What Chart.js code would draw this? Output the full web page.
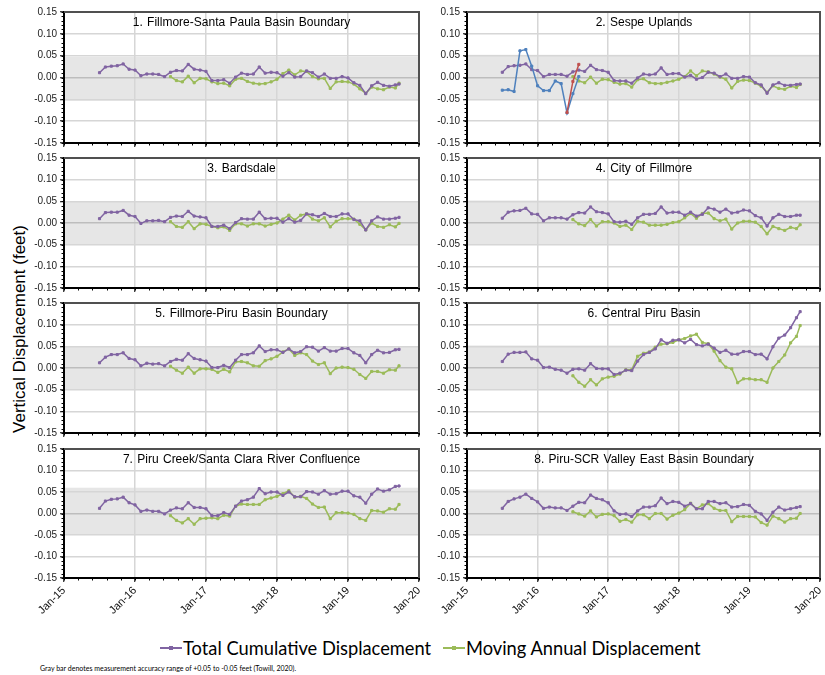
<!DOCTYPE html>
<html><head><meta charset="utf-8">
<script src="https://cdn.jsdelivr.net/npm/chart.js@4.4.1/dist/chart.umd.min.js"></script>
<style>
html,body{margin:0;padding:0;background:#fff}
body{width:825px;height:675px;overflow:hidden;position:relative;font-family:"Liberation Sans",Arial,sans-serif}
canvas{position:absolute}
.ptitle{position:absolute;font-size:12px;line-height:14px;color:#000;white-space:nowrap;transform:translateX(-50%);word-spacing:1px}
#ytitle{position:absolute;left:20px;top:329px;font-size:17px;color:#000;white-space:nowrap;transform:translate(-50%,-50%) rotate(-90deg)}
.leg{position:absolute;top:636px;height:24px;display:flex;align-items:center;font-family:Lato,"Open Sans",sans-serif;font-size:18.3px;color:#000;white-space:nowrap}
.legm{position:relative;width:22px;height:2px;margin-right:1px}
.legm span{position:absolute;left:9px;top:-1px;width:4px;height:4px}
#foot{position:absolute;left:40px;top:664px;font-family:Lato,"Open Sans",sans-serif;font-size:7px;color:#000;white-space:nowrap}
</style></head>
<body>
<div id="ytitle">Vertical Displacement (feet)</div>
<div class="leg" style="left:160px"><div class="legm" style="background:#8064A2"><span style="background:#8064A2"></span></div>Total Cumulative Displacement</div>
<div class="leg" style="left:443px"><div class="legm" style="background:#9BBB59"><span style="background:#9BBB59"></span></div>Moving Annual Displacement</div>
<div id="foot">Gray bar denotes measurement accuracy range of +0.05 to -0.05 feet (Towill, 2020).</div>
<script>
// ---------- DATA ----------
const dates = [
 '2015-07','2015-08','2015-09','2015-10','2015-11','2015-12',
 '2016-01','2016-02','2016-03','2016-04','2016-05','2016-06','2016-07','2016-08','2016-09','2016-10','2016-11','2016-12',
 '2017-01','2017-02','2017-03','2017-04','2017-05','2017-06','2017-07','2017-08','2017-09','2017-10','2017-11','2017-12',
 '2018-01','2018-02','2018-03','2018-04','2018-05','2018-06','2018-07','2018-08','2018-09','2018-10','2018-11','2018-12',
 '2019-01','2019-02','2019-03','2019-04','2019-05','2019-06','2019-07','2019-08','2019-09','2019-09-20'
];
// moving annual series start one year after the first date (index 12 = 2016-07)
const annualStartIndex = 12;

const titles = [
 '1. Fillmore-Santa Paula Basin Boundary','2. Sespe Uplands','3. Bardsdale','4. City of Fillmore',
 '5. Fillmore-Piru Basin Boundary','6. Central Piru Basin','7. Piru Creek/Santa Clara River Confluence','8. Piru-SCR Valley East Basin Boundary'
];

const total1 = [0.011,0.024,0.026,0.027,0.031,0.019,
 0.017,0.004,0.008,0.008,0.007,0.002,0.012,0.016,0.015,0.030,0.019,0.017,
 0.014,-0.007,-0.007,-0.005,-0.013,0.001,0.010,0.007,0.008,0.024,0.010,0.012,
 0.011,0.003,0.011,0.001,0.002,0.015,0.011,0.001,0.008,-0.002,-0.002,0.002,
 -0.001,-0.012,-0.018,-0.037,-0.019,-0.011,-0.018,-0.020,-0.017,-0.015];
const annual1 = [0.002,-0.007,-0.010,0.003,-0.012,-0.002,
 -0.003,-0.010,-0.014,-0.013,-0.019,-0.004,-0.002,-0.009,-0.013,-0.015,-0.014,-0.010,
 -0.004,0.009,0.017,0.006,0.015,0.014,0.002,-0.003,-0.002,-0.025,-0.010,-0.009,
 -0.010,-0.015,-0.026,-0.036,-0.022,-0.026,-0.028,-0.022,-0.024,-0.013];

const total2 = [0.012,0.025,0.027,0.028,0.031,0.018,
 0.016,0.002,0.007,0.007,0.007,0.003,0.013,0.017,0.014,0.028,0.018,0.016,
 0.012,-0.007,-0.008,-0.008,-0.013,-0.001,0.008,0.006,0.008,0.022,0.007,0.009,
 0.009,0.001,0.005,-0.004,0.000,0.012,0.010,0.002,0.008,-0.002,-0.002,0.002,
 0.001,-0.012,-0.017,-0.036,-0.017,-0.012,-0.018,-0.018,-0.016,-0.015];
const annual2 = [0.002,-0.008,-0.012,0.001,-0.013,-0.004,
 -0.005,-0.011,-0.015,-0.014,-0.022,-0.005,-0.003,-0.012,-0.014,-0.014,-0.011,-0.008,
 -0.004,0.002,0.015,0.004,0.015,0.013,0.008,0.001,-0.004,-0.024,-0.009,-0.006,
 -0.007,-0.013,-0.020,-0.034,-0.019,-0.025,-0.027,-0.020,-0.023,-0.016];
// extra Sespe Uplands series (blue: first 14 dates; red: three dates)
const sespeBlue = [-0.029,-0.028,-0.032,0.061,0.064,0.026,-0.019,-0.030,-0.030,-0.008,-0.014,-0.081,-0.037,0.002];
const sespeRedDates = ['2016-06','2016-07','2016-08'];
const sespeRed = [-0.080,-0.009,0.030];

const total3 = [0.010,0.024,0.025,0.025,0.029,0.018,
 0.015,-0.001,0.005,0.005,0.006,0.003,0.013,0.016,0.015,0.027,0.016,0.014,
 0.012,-0.008,-0.008,-0.005,-0.013,0.001,0.010,0.009,0.009,0.025,0.010,0.011,
 0.011,0.002,0.010,0.002,0.006,0.021,0.019,0.015,0.022,0.015,0.015,0.021,
 0.021,0.008,0.005,-0.016,0.005,0.014,0.009,0.009,0.011,0.013];
const annual3 = [0.003,-0.008,-0.010,0.003,-0.013,-0.002,
 -0.003,-0.008,-0.011,-0.009,-0.017,-0.002,-0.002,-0.007,-0.002,-0.002,-0.007,-0.003,
 0.000,0.009,0.018,0.007,0.018,0.021,0.009,0.005,0.012,-0.009,0.004,0.010,
 0.010,0.009,-0.003,-0.016,0.000,-0.008,-0.010,-0.004,-0.009,-0.001];

const total4 = [0.011,0.025,0.028,0.029,0.034,0.021,
 0.020,0.005,0.012,0.012,0.012,0.009,0.019,0.024,0.023,0.037,0.026,0.024,
 0.021,0.003,0.002,0.004,-0.003,0.012,0.020,0.020,0.022,0.037,0.023,0.025,
 0.025,0.018,0.025,0.016,0.020,0.035,0.032,0.025,0.032,0.023,0.025,0.030,
 0.028,0.017,0.012,-0.007,0.012,0.020,0.015,0.015,0.018,0.018];
const annual4 = [0.008,-0.002,-0.006,0.008,-0.007,0.003,
 0.003,0.000,-0.008,-0.005,-0.015,0.004,0.002,-0.005,-0.005,-0.005,-0.003,0.001,
 0.003,0.012,0.022,0.011,0.022,0.023,0.010,0.005,0.009,-0.014,0.000,0.004,
 0.004,0.002,-0.008,-0.025,-0.008,-0.013,-0.017,-0.010,-0.013,-0.004];

const total5 = [0.012,0.025,0.031,0.031,0.035,0.022,
 0.019,0.005,0.011,0.009,0.010,0.005,0.015,0.020,0.018,0.033,0.022,0.019,
 0.016,0.001,0.001,0.006,0.001,0.018,0.031,0.031,0.035,0.051,0.038,0.042,
 0.042,0.036,0.044,0.035,0.038,0.049,0.048,0.039,0.047,0.039,0.039,0.045,
 0.045,0.035,0.029,0.012,0.031,0.041,0.035,0.036,0.042,0.043];
const annual5 = [0.004,-0.005,-0.012,0.002,-0.012,-0.002,
 -0.002,-0.003,-0.010,-0.003,-0.009,0.014,0.015,0.012,0.005,0.004,0.017,0.021,
 0.027,0.037,0.044,0.029,0.035,0.031,0.016,0.008,0.012,-0.013,0.000,0.002,
 0.001,-0.003,-0.015,-0.024,-0.008,-0.008,-0.012,-0.004,-0.005,0.005];

const total6 = [0.015,0.032,0.036,0.036,0.037,0.021,
 0.018,0.001,0.002,-0.003,-0.005,-0.012,-0.003,-0.002,-0.005,0.010,-0.001,-0.002,
 -0.002,-0.015,-0.012,-0.005,-0.006,0.016,0.031,0.036,0.044,0.065,0.057,0.064,
 0.065,0.058,0.066,0.054,0.051,0.055,0.046,0.036,0.041,0.032,0.032,0.038,
 0.038,0.031,0.032,0.021,0.049,0.069,0.076,0.093,0.116,0.130];
const annual6 = [-0.018,-0.033,-0.042,-0.027,-0.039,-0.025,
 -0.021,-0.019,-0.014,-0.004,-0.004,0.027,0.034,0.037,0.048,0.055,0.056,0.059,
 0.065,0.068,0.074,0.078,0.059,0.056,0.039,0.017,0.002,-0.002,-0.034,-0.025,
 -0.025,-0.027,-0.027,-0.033,0.000,0.015,0.030,0.058,0.073,0.098];

const total7 = [0.012,0.029,0.033,0.034,0.038,0.025,
 0.020,0.005,0.008,0.005,0.005,-0.001,0.008,0.013,0.011,0.025,0.014,0.014,
 0.011,-0.005,-0.005,0.002,-0.002,0.017,0.029,0.032,0.038,0.058,0.046,0.050,
 0.050,0.042,0.050,0.039,0.039,0.051,0.050,0.045,0.053,0.045,0.046,0.052,
 0.052,0.041,0.038,0.024,0.045,0.057,0.052,0.055,0.063,0.064];
const annual7 = [-0.005,-0.016,-0.022,-0.012,-0.025,-0.012,
 -0.011,-0.010,-0.012,-0.004,-0.006,0.017,0.022,0.021,0.021,0.021,0.032,0.036,
 0.040,0.046,0.053,0.038,0.040,0.035,0.022,0.014,0.015,-0.012,0.002,0.002,
 0.001,-0.002,-0.012,-0.016,0.007,0.006,0.003,0.011,0.010,0.021];

const total8 = [0.012,0.028,0.034,0.038,0.045,0.035,
 0.027,0.012,0.015,0.013,0.013,0.007,0.017,0.026,0.025,0.043,0.035,0.032,
 0.025,0.006,-0.002,-0.001,-0.007,0.006,0.015,0.015,0.018,0.036,0.023,0.028,
 0.026,0.017,0.023,0.011,0.011,0.028,0.028,0.023,0.025,0.015,0.016,0.021,
 0.019,0.005,-0.001,-0.016,0.003,0.015,0.008,0.011,0.014,0.016];
const annual8 = [0.004,-0.001,-0.006,0.006,-0.008,-0.002,
 -0.001,-0.005,-0.018,-0.014,-0.020,-0.003,-0.003,-0.012,0.000,0.000,-0.013,-0.004,
 0.001,0.009,0.024,0.011,0.020,0.023,0.012,0.007,0.007,-0.019,-0.007,-0.007,
 -0.007,-0.008,-0.021,-0.027,-0.006,-0.012,-0.020,-0.012,-0.011,0.000];

// accuracy band (gray bar) limits per panel
const bandHigh = [0.047,0.052,0.050,0.052,0.050,0.052,0.060,0.056];
const bandLow  = [-0.053,-0.050,-0.050,-0.050,-0.050,-0.050,-0.050,-0.050];

const yTickValues = [-0.15,-0.10,-0.05,0,0.05,0.10,0.15];
const xTickYears = [2015,2016,2017,2018,2019,2020];
const xTickLabels = ['Jan-15','Jan-16','Jan-17','Jan-18','Jan-19','Jan-20'];

const totals = [total1,total2,total3,total4,total5,total6,total7,total8];
const annuals = [annual1,annual2,annual3,annual4,annual5,annual6,annual7,annual8];

// ---------- STYLE / LAYOUT ----------
const C_TOTAL = '#8064A2', C_ANNUAL = '#9BBB59', C_BLUE = '#4F81BD', C_RED = '#C0504D';
const cols = [
 {left:0,   width:425, yw:64, padR:6},
 {left:412, width:413, yw:55, padR:4}
];
const rowTop = [12,158,303,449];
const rowBottom = [143,288,433,578];
const PAD_TOP = 8;

function toYear(s){
  const p = s.split('-').map(Number);
  const d = p[2] || 1;
  return p[0] + (p[1]-1)/12 + (d-1)/365;
}
function pts(ds, vals){ return vals.map((v,i)=>({x:toYear(ds[i]), y:v})); }

const framePlugin = {
  id:'frame',
  beforeDraw(chart, args, opts){
    const {ctx, chartArea:a, scales:{y}} = chart;
    const t = y.getPixelForValue(opts.hi), b = y.getPixelForValue(opts.lo);
    ctx.save();
    ctx.fillStyle = '#e6e6e6';
    ctx.fillRect(a.left, t, a.right-a.left, b-t);
    ctx.restore();
  },
  afterDraw(chart){
    const {ctx, chartArea:a, scales:{x,y}} = chart;
    ctx.save();
    ctx.strokeStyle = '#000'; ctx.lineWidth = 1;
    ctx.beginPath();
    for(let k=-15;k<=15;k++){
      const py = Math.round(y.getPixelForValue(k/100))+0.5;
      ctx.moveTo(a.left-2.5, py); ctx.lineTo(a.left, py);
    }
    for(let k=0;k<=25;k++){
      const px = Math.round(x.getPixelForValue(2015+k/5))+0.5;
      ctx.moveTo(px, a.bottom); ctx.lineTo(px, a.bottom+2.5);
    }
    ctx.stroke();
    ctx.strokeStyle = '#505050'; ctx.lineWidth = 2;
    ctx.beginPath();
    ctx.moveTo(a.left, a.top); ctx.lineTo(a.right, a.top); ctx.lineTo(a.right, a.bottom);
    ctx.stroke();
    ctx.restore();
  }
};

function lineDs(data, color){
  return {data, borderColor:color, backgroundColor:color, borderWidth:1.5,
    pointStyle:'rect', pointRadius:1.5, pointBorderWidth:1, pointBackgroundColor:color, pointBorderColor:color,
    tension:0, fill:false};
}

for(let i=0;i<8;i++){
  const col = cols[i%2], row = Math.floor(i/2);
  const bottomRow = row===3;
  const xh = bottomRow ? 60 : 6;
  const plotH = rowBottom[row]-rowTop[row];
  const cv = document.createElement('canvas');
  const H = PAD_TOP + plotH + xh;
  cv.width = col.width; cv.height = H;
  cv.style.left = col.left+'px'; cv.style.top = (rowTop[row]-PAD_TOP)+'px';
  cv.style.width = col.width+'px'; cv.style.height = H+'px';
  document.body.appendChild(cv);

  const datasets = [];
  if(i===1){
    datasets.push(lineDs(pts(sespeRedDates, sespeRed), C_RED));
    datasets.push(lineDs(pts(dates.slice(0, sespeBlue.length), sespeBlue), C_BLUE));
  }
  datasets.push(lineDs(pts(dates, totals[i]), C_TOTAL));
  datasets.push(lineDs(pts(dates.slice(annualStartIndex), annuals[i]), C_ANNUAL));

  new Chart(cv, {
    type:'line',
    data:{datasets},
    options:{
      responsive:false, maintainAspectRatio:false, animation:false, devicePixelRatio:1,
      layout:{padding:{top:PAD_TOP,right:col.padR,left:0,bottom:0}},
      plugins:{legend:{display:false}, tooltip:{enabled:false}, frame:{hi:bandHigh[i], lo:bandLow[i]}},
      scales:{
        x:{type:'linear', min:2015, max:2020,
          afterBuildTicks:ax=>{ ax.ticks = xTickYears.map(v=>({value:v})); },
          ticks:{display:bottomRow, autoSkip:false, minRotation:45, maxRotation:45, padding:2,
            callback:(v)=>xTickLabels[xTickYears.indexOf(v)], font:{family:'"Liberation Sans", Arial', size:11}, color:'#111'},
          grid:{color:'#d6d6d6', lineWidth:1.5, drawTicks:true, tickLength:4, tickColor:'#000', tickWidth:1},
          border:{display:true, color:'#000', width:2},
          afterFit:ax=>{ ax.height = xh; ax.paddingLeft=0; ax.paddingRight=0; }
        },
        y:{type:'linear', min:-0.15, max:0.15,
          afterBuildTicks:ax=>{ ax.ticks = yTickValues.map(v=>({value:v})); },
          ticks:{callback:v=>v.toFixed(2), padding:3, font:{family:'"Liberation Sans", Arial', size:10}, color:'#222'},
          grid:{color:(c)=> (c.tick && c.tick.value===0) ? '#bdbdbd' : '#d6d6d6', lineWidth:1.5, drawTicks:true, tickLength:4, tickColor:'#000', tickWidth:1},
          border:{display:true, color:'#000', width:2},
          afterFit:ax=>{ ax.width = col.yw; ax.paddingTop=0; ax.paddingBottom=0; }
        }
      }
    },
    plugins:[framePlugin]
  });

  const t = document.createElement('div');
  t.className = 'ptitle';
  t.textContent = titles[i];
  t.style.left = (col.left + col.yw + (col.width - col.yw - col.padR)/2) + 'px';
  t.style.top = (rowTop[row] + 3) + 'px';
  document.body.appendChild(t);
}
</script>
</body></html>
